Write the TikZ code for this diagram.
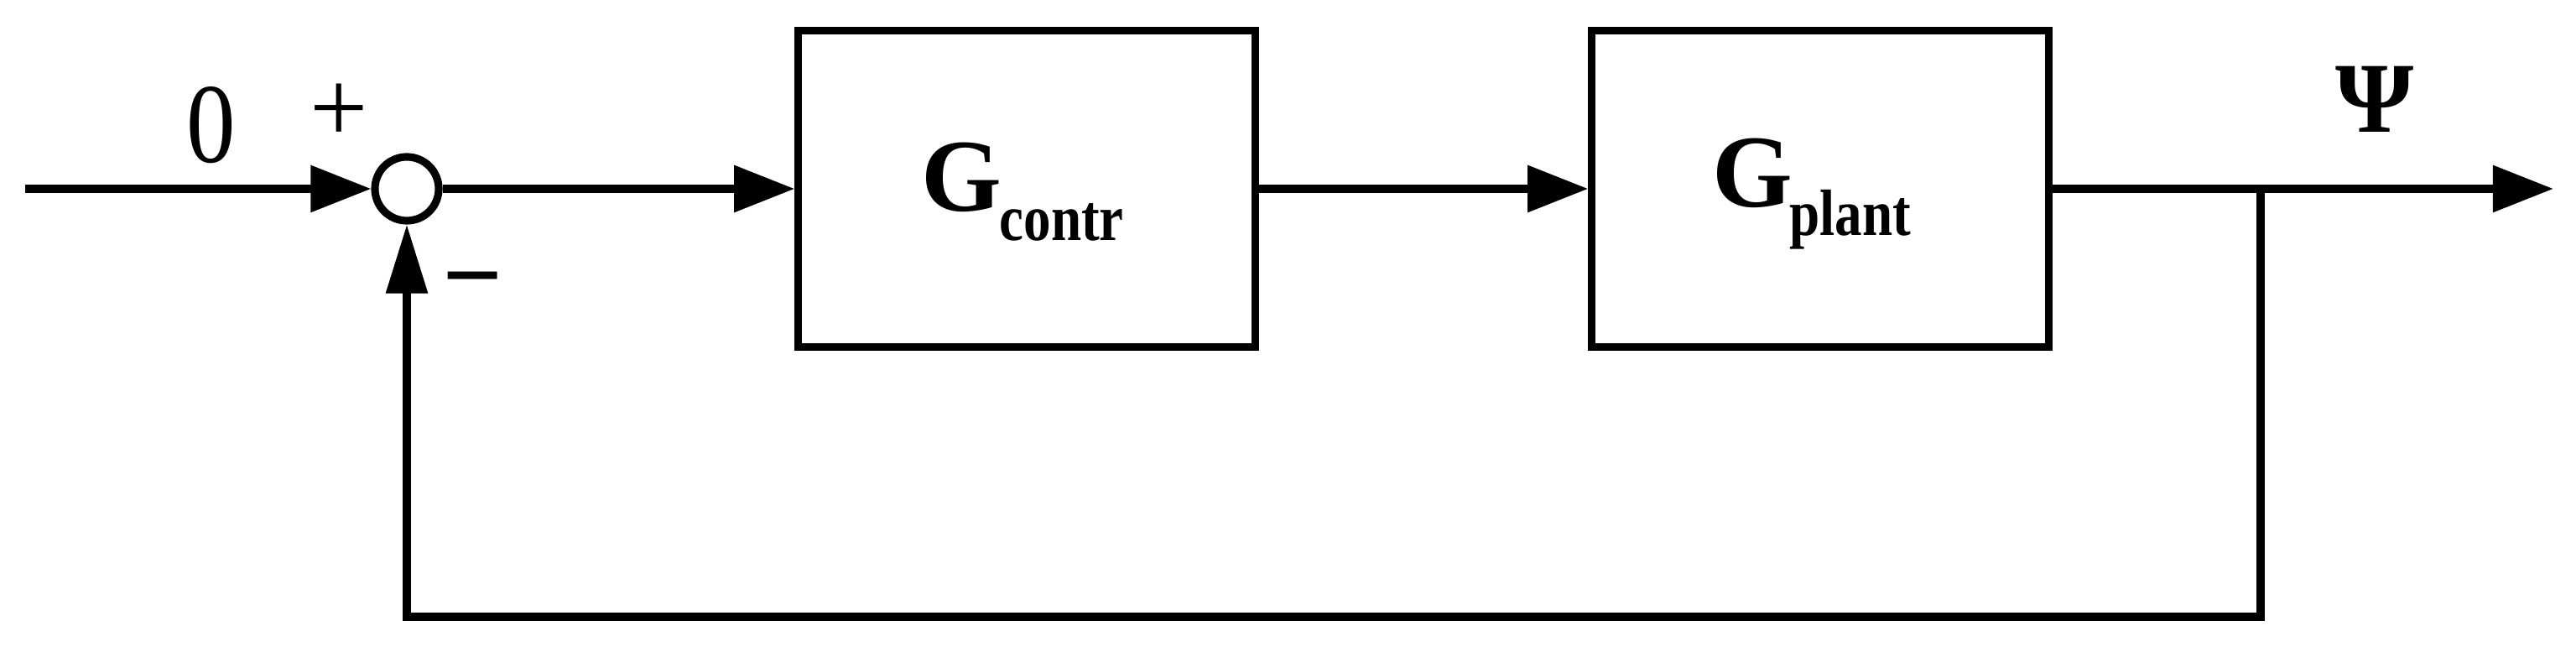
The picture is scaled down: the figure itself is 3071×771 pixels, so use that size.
\documentclass[tikz,border=0pt]{standalone}
\usepackage{fontspec}
\setmainfont{Liberation Serif}
\usepackage{graphicx}
\usetikzlibrary{arrows.meta}
\tikzset{
  conn/.style={line width=2.6pt},
  harrow/.style={conn,-{Triangle[length=0.72cm,width=0.54cm]}},
  varrow/.style={conn,-{Triangle[length=0.82cm,width=0.48cm]}},
  blockbox/.style={draw,line width=2.6pt,rectangle,minimum width=5.44cm,minimum height=3.76cm,inner sep=0pt},
  sumnode/.style={draw,line width=2.6pt,circle,minimum size=0.76cm,inner sep=0pt},
  bigG/.style={inner sep=0pt,anchor=base west,font=\fontsize{35}{40}\bfseries\selectfont},
  subtxt/.style={inner sep=0pt,anchor=base west,font=\fontsize{18.5}{22}\bfseries\selectfont},
  sign/.style={inner sep=0pt,font=\fontsize{35}{40}\selectfont},
}
\begin{document}
\begin{tikzpicture}[x=0.01cm,y=-0.01cm]
\useasboundingbox (0,0) rectangle (3071,771);
% blocks
\node[sumnode] (sum) at (485,225) {};
\node[blockbox] (b1) at (1224,225) {};
\node[blockbox] (b2) at (2170,225) {};
% labels in blocks
\node[bigG] (g1) at (1098,252) {G};
\node[subtxt] (s1) at (1191,287) {\scalebox{1}[1.2]{contr}};
\node[bigG] (g2) at (2041,247) {G};
\node[subtxt] (s2) at (2133,281) {\scalebox{1}[1.2]{plant}};
% signals
\node[sign] (zero) at (252,149) {\scalebox{0.95}[1.1]{0}};
\node[sign] (plus) at (404,135) {+};
\node[sign,font=\fontsize{36}{40}\bfseries\selectfont] (minus) at (564,347) {−};
\node[sign,font=\fontsize{34}{40}\bfseries\selectfont] (psi) at (2831,118) {Ψ};
% coordinates
\coordinate (in) at (30,225);
\coordinate (out) at (3044,225);
\coordinate (j) at (2695,225);
\coordinate (fbc) at (2695,735);
% connectors
\draw[harrow] (in) -- (sum.west);
\draw[harrow] (sum.east) -- (b1.west);
\draw[harrow] (b1.east) -- (b2.west);
\draw[harrow] (b2.east) -- (out);
\draw[varrow] (j) -- (fbc) -| (sum.south);
\end{tikzpicture}
\end{document}
